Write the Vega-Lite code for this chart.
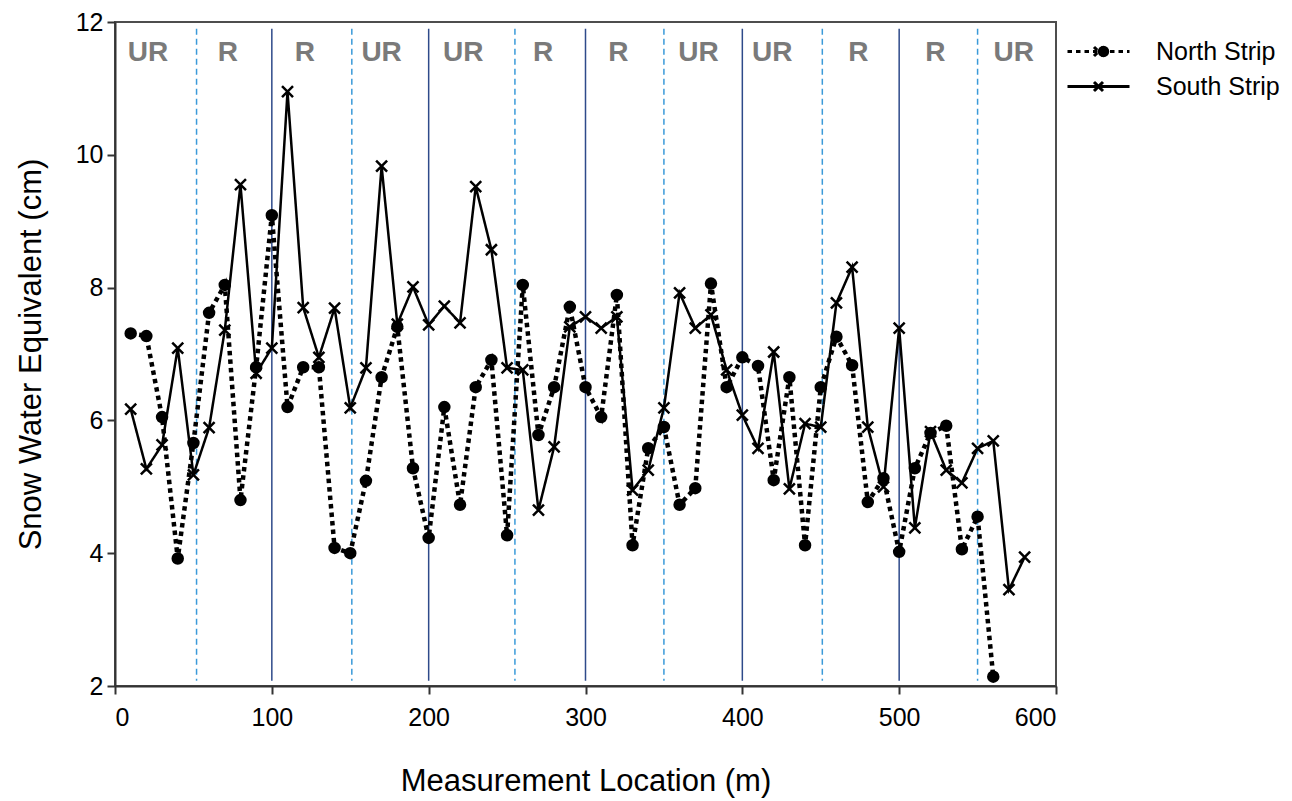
{
  "$schema": "https://vega.github.io/schema/vega-lite/v6.json",
  "autosize": {"type": "none"},
  "padding": {"left": 115, "top": 22, "right": 236, "bottom": 115},
  "width": 941,
  "height": 664,
  "background": "white",
  "config": {
    "font": "Liberation Sans",
    "view": {"stroke": "#4d4d4d", "strokeWidth": 2},
    "axis": {
      "labelFont": "Liberation Sans",
      "labelFontSize": 25,
      "labelColor": "black",
      "titleFont": "Liberation Sans",
      "titleFontSize": 31,
      "titleFontWeight": "normal",
      "titleColor": "black",
      "domainColor": "#333333",
      "domainWidth": 2,
      "tickColor": "#333333",
      "tickWidth": 2,
      "tickSize": 8,
      "grid": false
    },
    "legend": {"padding": 0}
  },
  "datasets": {
    "swe": [
      {"x": 10, "swe": 7.31, "series": "North Strip"},
      {"x": 20, "swe": 7.27, "series": "North Strip"},
      {"x": 30, "swe": 6.05, "series": "North Strip"},
      {"x": 40, "swe": 3.92, "series": "North Strip"},
      {"x": 50, "swe": 5.66, "series": "North Strip"},
      {"x": 60, "swe": 7.62, "series": "North Strip"},
      {"x": 70, "swe": 8.04, "series": "North Strip"},
      {"x": 80, "swe": 4.8, "series": "North Strip"},
      {"x": 90, "swe": 6.8, "series": "North Strip"},
      {"x": 100, "swe": 9.09, "series": "North Strip"},
      {"x": 110, "swe": 6.2, "series": "North Strip"},
      {"x": 120, "swe": 6.8, "series": "North Strip"},
      {"x": 130, "swe": 6.8, "series": "North Strip"},
      {"x": 140, "swe": 4.08, "series": "North Strip"},
      {"x": 150, "swe": 4.0, "series": "North Strip"},
      {"x": 160, "swe": 5.09, "series": "North Strip"},
      {"x": 170, "swe": 6.65, "series": "North Strip"},
      {"x": 180, "swe": 7.41, "series": "North Strip"},
      {"x": 190, "swe": 5.28, "series": "North Strip"},
      {"x": 200, "swe": 4.23, "series": "North Strip"},
      {"x": 210, "swe": 6.2, "series": "North Strip"},
      {"x": 220, "swe": 4.73, "series": "North Strip"},
      {"x": 230, "swe": 6.5, "series": "North Strip"},
      {"x": 240, "swe": 6.91, "series": "North Strip"},
      {"x": 250, "swe": 4.27, "series": "North Strip"},
      {"x": 260, "swe": 8.04, "series": "North Strip"},
      {"x": 270, "swe": 5.78, "series": "North Strip"},
      {"x": 280, "swe": 6.5, "series": "North Strip"},
      {"x": 290, "swe": 7.71, "series": "North Strip"},
      {"x": 300, "swe": 6.5, "series": "North Strip"},
      {"x": 310, "swe": 6.05, "series": "North Strip"},
      {"x": 320, "swe": 7.89, "series": "North Strip"},
      {"x": 330, "swe": 4.12, "series": "North Strip"},
      {"x": 340, "swe": 5.58, "series": "North Strip"},
      {"x": 350, "swe": 5.9, "series": "North Strip"},
      {"x": 360, "swe": 4.73, "series": "North Strip"},
      {"x": 370, "swe": 4.98, "series": "North Strip"},
      {"x": 380, "swe": 8.06, "series": "North Strip"},
      {"x": 390, "swe": 6.5, "series": "North Strip"},
      {"x": 400, "swe": 6.95, "series": "North Strip"},
      {"x": 410, "swe": 6.82, "series": "North Strip"},
      {"x": 420, "swe": 5.1, "series": "North Strip"},
      {"x": 430, "swe": 6.65, "series": "North Strip"},
      {"x": 440, "swe": 4.12, "series": "North Strip"},
      {"x": 450, "swe": 6.5, "series": "North Strip"},
      {"x": 460, "swe": 7.26, "series": "North Strip"},
      {"x": 470, "swe": 6.83, "series": "North Strip"},
      {"x": 480, "swe": 4.77, "series": "North Strip"},
      {"x": 490, "swe": 5.13, "series": "North Strip"},
      {"x": 500, "swe": 4.02, "series": "North Strip"},
      {"x": 510, "swe": 5.28, "series": "North Strip"},
      {"x": 520, "swe": 5.81, "series": "North Strip"},
      {"x": 530, "swe": 5.92, "series": "North Strip"},
      {"x": 540, "swe": 4.06, "series": "North Strip"},
      {"x": 550, "swe": 4.55, "series": "North Strip"},
      {"x": 560, "swe": 2.14, "series": "North Strip"},
      {"x": 10, "swe": 6.17, "series": "South Strip"},
      {"x": 20, "swe": 5.27, "series": "South Strip"},
      {"x": 30, "swe": 5.63, "series": "South Strip"},
      {"x": 40, "swe": 7.09, "series": "South Strip"},
      {"x": 50, "swe": 5.18, "series": "South Strip"},
      {"x": 60, "swe": 5.89, "series": "South Strip"},
      {"x": 70, "swe": 7.36, "series": "South Strip"},
      {"x": 80, "swe": 9.55, "series": "South Strip"},
      {"x": 90, "swe": 6.71, "series": "South Strip"},
      {"x": 100, "swe": 7.09, "series": "South Strip"},
      {"x": 110, "swe": 10.95, "series": "South Strip"},
      {"x": 120, "swe": 7.7, "series": "South Strip"},
      {"x": 130, "swe": 6.95, "series": "South Strip"},
      {"x": 140, "swe": 7.69, "series": "South Strip"},
      {"x": 150, "swe": 6.19, "series": "South Strip"},
      {"x": 160, "swe": 6.79, "series": "South Strip"},
      {"x": 170, "swe": 9.83, "series": "South Strip"},
      {"x": 180, "swe": 7.45, "series": "South Strip"},
      {"x": 190, "swe": 8.01, "series": "South Strip"},
      {"x": 200, "swe": 7.44, "series": "South Strip"},
      {"x": 210, "swe": 7.72, "series": "South Strip"},
      {"x": 220, "swe": 7.47, "series": "South Strip"},
      {"x": 230, "swe": 9.52, "series": "South Strip"},
      {"x": 240, "swe": 8.57, "series": "South Strip"},
      {"x": 250, "swe": 6.79, "series": "South Strip"},
      {"x": 260, "swe": 6.76, "series": "South Strip"},
      {"x": 270, "swe": 4.65, "series": "South Strip"},
      {"x": 280, "swe": 5.6, "series": "South Strip"},
      {"x": 290, "swe": 7.41, "series": "South Strip"},
      {"x": 300, "swe": 7.56, "series": "South Strip"},
      {"x": 310, "swe": 7.39, "series": "South Strip"},
      {"x": 320, "swe": 7.56, "series": "South Strip"},
      {"x": 330, "swe": 4.95, "series": "South Strip"},
      {"x": 340, "swe": 5.25, "series": "South Strip"},
      {"x": 350, "swe": 6.19, "series": "South Strip"},
      {"x": 360, "swe": 7.92, "series": "South Strip"},
      {"x": 370, "swe": 7.39, "series": "South Strip"},
      {"x": 380, "swe": 7.59, "series": "South Strip"},
      {"x": 390, "swe": 6.76, "series": "South Strip"},
      {"x": 400, "swe": 6.08, "series": "South Strip"},
      {"x": 410, "swe": 5.58, "series": "South Strip"},
      {"x": 420, "swe": 7.03, "series": "South Strip"},
      {"x": 430, "swe": 4.97, "series": "South Strip"},
      {"x": 440, "swe": 5.95, "series": "South Strip"},
      {"x": 450, "swe": 5.9, "series": "South Strip"},
      {"x": 460, "swe": 7.77, "series": "South Strip"},
      {"x": 470, "swe": 8.31, "series": "South Strip"},
      {"x": 480, "swe": 5.9, "series": "South Strip"},
      {"x": 490, "swe": 5.0, "series": "South Strip"},
      {"x": 500, "swe": 7.39, "series": "South Strip"},
      {"x": 510, "swe": 4.38, "series": "South Strip"},
      {"x": 520, "swe": 5.83, "series": "South Strip"},
      {"x": 530, "swe": 5.25, "series": "South Strip"},
      {"x": 540, "swe": 5.06, "series": "South Strip"},
      {"x": 550, "swe": 5.58, "series": "South Strip"},
      {"x": 560, "swe": 5.69, "series": "South Strip"},
      {"x": 570, "swe": 3.45, "series": "South Strip"},
      {"x": 580, "swe": 3.94, "series": "South Strip"}
    ],
    "dividers": [
      {"pos": 52, "kind": "dashed"},
      {"pos": 100, "kind": "solid"},
      {"pos": 151, "kind": "dashed"},
      {"pos": 200, "kind": "solid"},
      {"pos": 255, "kind": "dashed"},
      {"pos": 300, "kind": "solid"},
      {"pos": 350, "kind": "dashed"},
      {"pos": 400, "kind": "solid"},
      {"pos": 451, "kind": "dashed"},
      {"pos": 500, "kind": "solid"},
      {"pos": 550, "kind": "dashed"}
    ],
    "zones": [
      {"xc": 21, "label": "UR"},
      {"xc": 72, "label": "R"},
      {"xc": 121, "label": "R"},
      {"xc": 170, "label": "UR"},
      {"xc": 222, "label": "UR"},
      {"xc": 273, "label": "R"},
      {"xc": 321, "label": "R"},
      {"xc": 372, "label": "UR"},
      {"xc": 419, "label": "UR"},
      {"xc": 474, "label": "R"},
      {"xc": 523, "label": "R"},
      {"xc": 573, "label": "UR"}
    ]
  },
  "layer": [
    {
      "data": {"name": "dividers"},
      "transform": [{"filter": "datum.kind === 'solid'"}],
      "mark": {"type": "rule", "color": "#2e4a8a", "strokeWidth": 1.5},
      "encoding": {
        "x": {"field": "pos", "type": "quantitative", "scale": {"domain": [0, 600], "nice": false},
              "axis": {"values": [0, 100, 200, 300, 400, 500, 600], "format": "d", "title": "Measurement Location (m)", "labelPadding": 11, "titlePadding": 36}},
        "y": {"datum": 11.9, "type": "quantitative", "scale": {"domain": [2, 12], "nice": false},
              "axis": {"values": [2, 4, 6, 8, 10, 12], "format": "d", "title": "Snow Water Equivalent (cm)", "labelPadding": 4, "titlePadding": 28}},
        "y2": {"datum": 2.08}
      }
    },
    {
      "data": {"name": "dividers"},
      "transform": [{"filter": "datum.kind === 'dashed'"}],
      "mark": {"type": "rule", "color": "#3a9ad9", "strokeWidth": 1.5, "strokeDash": [6, 4]},
      "encoding": {
        "x": {"field": "pos", "type": "quantitative"},
        "y": {"datum": 11.9, "type": "quantitative"},
        "y2": {"datum": 2.08}
      }
    },
    {
      "data": {"name": "zones"},
      "mark": {"type": "text", "font": "Liberation Sans", "fontSize": 28, "fontWeight": "bold", "color": "#7a7a7a", "baseline": "middle", "align": "center"},
      "encoding": {
        "x": {"field": "xc", "type": "quantitative"},
        "y": {"datum": 11.53, "type": "quantitative"},
        "text": {"field": "label"}
      }
    },
    {
      "data": {"name": "swe"},
      "transform": [{"filter": "datum.series === 'North Strip'"}],
      "mark": {"type": "line", "color": "black", "strokeWidth": 4.5},
      "encoding": {
        "x": {"field": "x", "type": "quantitative"},
        "y": {"field": "swe", "type": "quantitative"},
        "strokeDash": {
          "field": "series", "type": "nominal",
          "scale": {"domain": ["South Strip", "North Strip"], "range": [[1, 0], [4.5, 4]]},
          "legend": {
            "title": null,
            "orient": "none",
            "legendX": 971,
            "legendY": 17,
            "values": ["North Strip", "South Strip"],
            "symbolSize": 400,
            "symbolType": "M-3.1,0L3.1,0M-0.45,-0.45L0.45,0.45M-0.45,0.45L0.45,-0.45",
            "symbolStrokeColor": "black",
            "symbolStrokeWidth": 3,
            "symbolOpacity": 1,
            "labelFont": "Liberation Sans",
            "labelFontSize": 25,
            "labelColor": "transparent",
            "labelExpr": "''",
            "labelOffset": 37,
            "rowPadding": 9
          }
        }
      }
    },
    {
      "data": {"name": "swe"},
      "transform": [{"filter": "datum.series === 'South Strip'"}],
      "mark": {"type": "line", "color": "black", "strokeWidth": 2.5},
      "encoding": {
        "x": {"field": "x", "type": "quantitative"},
        "y": {"field": "swe", "type": "quantitative"},
        "strokeDash": {"field": "series", "type": "nominal"}
      }
    },
    {
      "data": {"name": "swe"},
      "mark": {"type": "point", "filled": true, "stroke": "black", "strokeWidth": 2.5, "opacity": 1},
      "encoding": {
        "x": {"field": "x", "type": "quantitative"},
        "y": {"field": "swe", "type": "quantitative"},
        "size": {"condition": {"test": "datum.series === 'North Strip'", "value": 100}, "value": 121},
        "fill": {
          "field": "series", "type": "nominal",
          "scale": {"domain": ["North Strip", "South Strip"], "range": ["black", "transparent"]},
          "legend": {
            "title": null,
            "orient": "none",
            "legendX": 976,
            "legendY": 17,
            "symbolSize": 130,
            "symbolStrokeColor": "black",
            "symbolStrokeWidth": 2.5,
            "symbolOpacity": 1,
            "labelFont": "Liberation Sans",
            "labelFontSize": 25,
            "labelColor": "black",
            "labelOffset": 40,
            "rowPadding": 9
          }
        },
        "shape": {
          "field": "series", "type": "nominal",
          "scale": {"domain": ["North Strip", "South Strip"], "range": ["circle", "M-1,-1L1,1M-1,1L1,-1"]},
          "legend": {
            "title": null,
            "orient": "none",
            "legendX": 976,
            "legendY": 17,
            "symbolSize": 130,
            "symbolStrokeColor": "black",
            "symbolStrokeWidth": 2.5,
            "symbolOpacity": 1,
            "labelFont": "Liberation Sans",
            "labelFontSize": 25,
            "labelColor": "black",
            "labelOffset": 40,
            "rowPadding": 9
          }
        }
      }
    }
  ]
}
